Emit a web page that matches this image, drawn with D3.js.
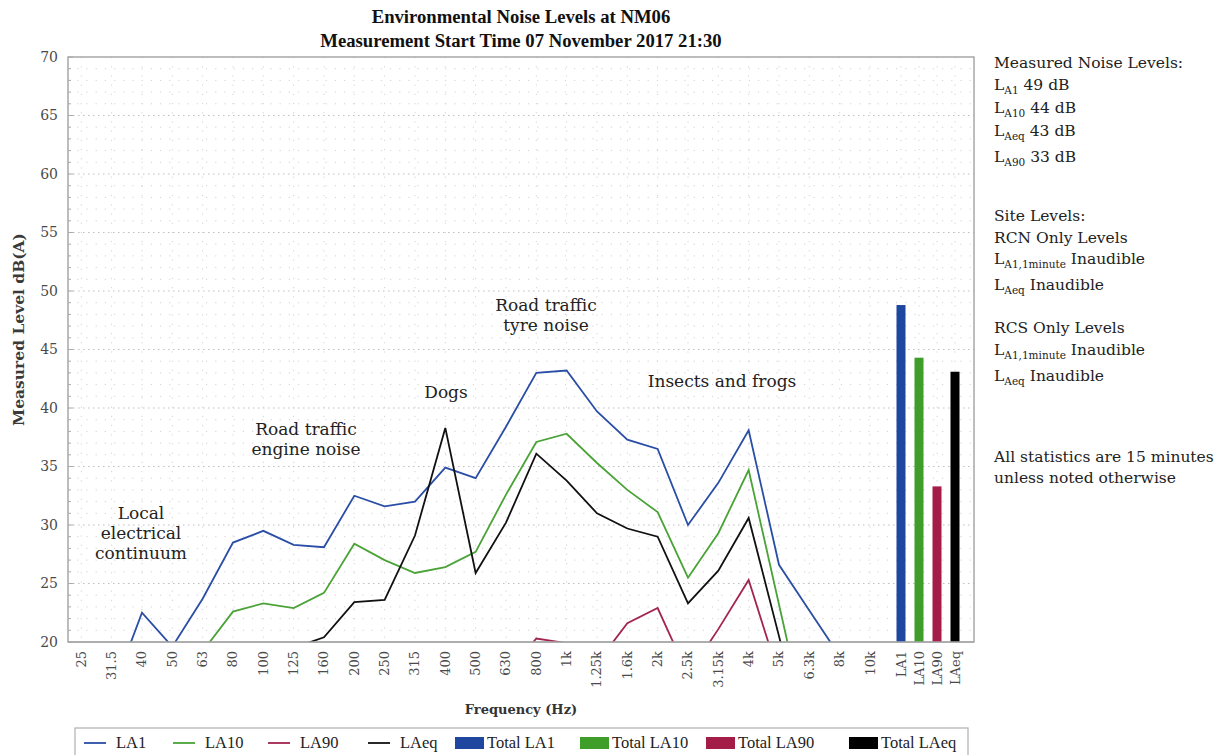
<!DOCTYPE html>
<html><head><meta charset="utf-8">
<script src="https://cdn.jsdelivr.net/npm/d3@7"></script>
<style>body{margin:0;background:#fff}svg{display:block}</style>
</head><body><svg id="c" width="1216" height="755"></svg>
<script>
// ---- data ----
const freqCats = ["25","31.5","40","50","63","80","100","125","160","200","250","315","400","500","630","800","1k","1.25k","1.6k","2k","2.5k","3.15k","4k","5k","6.3k","8k","10k"];
const totalCats = ["LA1","LA10","LA90","LAeq"];
const la1Values  = [14.0,15.6,22.5,19.6,23.7,28.5,29.5,28.3,28.1,32.5,31.6,32.0,34.9,34.0,38.4,43.0,43.2,39.7,37.3,36.5,30.0,33.6,38.1,26.6,22.7,18.8,15.2];
const la10Values = [11.8,12.6,14.1,16.0,19.2,22.6,23.3,22.9,24.2,28.4,27.0,25.9,26.4,27.7,32.6,37.1,37.8,35.3,33.0,31.1,25.5,29.3,34.7,23.2,11.7,10.4,9.1];
const la90Values = [7.9,8.6,9.4,9.1,10.3,11.2,11.9,12.5,13.4,14.8,14.1,15.2,15.9,16.3,17.2,20.3,19.9,18.2,21.6,22.9,17.2,21.1,25.3,17.1,9.8,7.2,6.1];
const laeqValues = [10.9,11.7,13.2,13.0,14.6,16.1,17.5,19.5,20.4,23.4,23.6,29.1,38.3,25.9,30.2,36.1,33.8,31.0,29.7,29.0,23.3,26.1,30.6,20.5,10.2,8.7,7.9];
const totalValues = [48.8, 44.3, 33.3, 43.1];
const yTicks = [20,25,30,35,40,45,50,55,60,65,70];

const seriesNames = ["LA1","LA10","LA90","LAeq"];
const seriesColors = ["#2a4ea6","#4aa336","#a3244f","#111111"];
const barColors = ["#1f47a0","#3f9d2a","#a31d48","#000000"];
const seriesData = [la1Values, la10Values, la90Values, laeqValues];

// ---- layout ----
const svg = d3.select("#c");
const L = 68, R = 974, T = 57, B = 642;

const x = d3.scalePoint().domain(freqCats).range([81.3, 870]);
const xt = d3.scaleBand().domain(totalCats).range([892, 964]).paddingInner(0.5).paddingOuter(0.25);
const y = d3.scaleLinear().domain([20, 70]).range([B, T]);
const catX = c => freqCats.includes(c) ? x(c) : xt(c) + xt.bandwidth() / 2;
const allCats = freqCats.concat(totalCats);

const serif = "'DejaVu Serif', serif";
const tnr = "'Liberation Serif', 'Times New Roman', serif";

// grid
const g = svg.append("g");
g.selectAll(".minor").data(d3.range(21, 70).filter(v => v % 5 !== 0)).join("line")
  .attr("x1", L).attr("x2", R).attr("y1", d => y(d)).attr("y2", d => y(d))
  .attr("stroke", "#d2d2d2").attr("stroke-width", 1).attr("stroke-dasharray", "1.2,8");
g.selectAll(".major").data(yTicks.filter(v => v > 20 && v < 70)).join("line")
  .attr("x1", L).attr("x2", R).attr("y1", d => y(d)).attr("y2", d => y(d))
  .attr("stroke", "#c0c0c0").attr("stroke-width", 1.2).attr("stroke-dasharray", "1.5,3.5");
g.selectAll(".vgrid").data(allCats).join("line")
  .attr("x1", d => catX(d)).attr("x2", d => catX(d)).attr("y1", T).attr("y2", B)
  .attr("stroke", "#d2d2d2").attr("stroke-width", 1).attr("stroke-dasharray", "1.2,8");

// left minor ticks
g.selectAll(".tk").data(d3.range(20, 71)).join("line")
  .attr("x1", L).attr("x2", d => L + (d % 5 === 0 ? 5 : 3)).attr("y1", d => y(d)).attr("y2", d => y(d))
  .attr("stroke", "#aaa").attr("stroke-width", 1);

// frame
svg.append("rect").attr("x", L).attr("y", T).attr("width", R - L).attr("height", B - T)
  .attr("fill", "none").attr("stroke", "#a8a8a8").attr("stroke-width", 1.5);

// y axis
const yAxis = d3.axisLeft(y).tickValues(yTicks).tickSize(0).tickPadding(10).tickFormat(d3.format("d"));
const ya = svg.append("g").attr("transform", `translate(${L},0)`).call(yAxis);
ya.select(".domain").remove();
ya.selectAll("text").attr("font-family", serif).attr("font-size", 14).attr("fill", "#4a4a4a");

// x axis labels (rotated)
const xa = svg.append("g");
xa.selectAll("text").data(allCats).join("text")
  .attr("transform", d => `translate(${catX(d) + 4.5},${B + 9}) rotate(-90)`)
  .attr("text-anchor", "end").attr("font-family", serif).attr("font-size", 13).attr("fill", "#4a4a4a")
  .text(d => d);

// clip
svg.append("clipPath").attr("id", "clip").append("rect").attr("x", L).attr("y", T).attr("width", R - L).attr("height", B - T);

// bars
svg.append("g").selectAll("rect").data(totalCats).join("rect")
  .attr("x", d => xt(d)).attr("width", xt.bandwidth())
  .attr("y", (d, i) => y(totalValues[i])).attr("height", (d, i) => B - y(totalValues[i]))
  .attr("fill", (d, i) => barColors[i]);

// lines
const line = d3.line().x((d, i) => x(freqCats[i])).y(d => y(d));
svg.append("g").attr("clip-path", "url(#clip)").selectAll("path").data(seriesData).join("path")
  .attr("d", d => line(d)).attr("fill", "none")
  .attr("stroke", (d, i) => seriesColors[i]).attr("stroke-width", 1.8).attr("stroke-linejoin", "miter");

// re-draw bottom frame line over the clipped lines
svg.append("line").attr("x1", L).attr("x2", R).attr("y1", B).attr("y2", B).attr("stroke", "#a8a8a8").attr("stroke-width", 1.5);

// title
svg.append("text").attr("x", 521).attr("y", 23).attr("text-anchor", "middle").attr("font-family", tnr)
  .attr("font-weight", "bold").attr("font-size", 18.7).attr("fill", "#111").text("Environmental Noise Levels at NM06");
svg.append("text").attr("x", 521).attr("y", 47).attr("text-anchor", "middle").attr("font-family", tnr)
  .attr("font-weight", "bold").attr("font-size", 18.7).attr("fill", "#111").text("Measurement Start Time 07 November 2017 21:30");

// axis titles
svg.append("text").attr("x", 521).attr("y", 714).attr("text-anchor", "middle").attr("font-family", serif)
  .attr("font-weight", "bold").attr("font-size", 13).attr("fill", "#333").text("Frequency (Hz)");
svg.append("text").attr("transform", `translate(24,${(T + B) / 2 - 20}) rotate(-90)`).attr("text-anchor", "middle")
  .attr("font-family", serif).attr("font-weight", "bold").attr("font-size", 15.5).attr("fill", "#3a3a3a").text("Measured Level dB(A)");

// annotations
const annotations = [
  {lines: ["Local", "electrical", "continuum"], x: 141, y: 519},
  {lines: ["Road traffic", "engine noise"], x: 306, y: 435},
  {lines: ["Dogs"], x: 446, y: 398},
  {lines: ["Road traffic", "tyre noise"], x: 546, y: 311},
  {lines: ["Insects and frogs"], x: 722, y: 387}
];
annotations.forEach(a => {
  const t = svg.append("text").attr("text-anchor", "middle").attr("font-family", serif).attr("font-size", 17).attr("fill", "#222");
  a.lines.forEach((s, i) => t.append("tspan").attr("x", a.x).attr("y", a.y + i * 20).text(s));
});

// right panel
const panel = [
  {y: 68, parts: [["Measured Noise Levels:", false]]},
  {y: 90, parts: [["L", false], ["A1", true], [" 49 dB", false]]},
  {y: 113, parts: [["L", false], ["A10", true], [" 44 dB", false]]},
  {y: 136, parts: [["L", false], ["Aeq", true], [" 43 dB", false]]},
  {y: 162, parts: [["L", false], ["A90", true], [" 33 dB", false]]},
  {y: 221, parts: [["Site Levels:", false]]},
  {y: 243, parts: [["RCN Only Levels", false]]},
  {y: 264, parts: [["L", false], ["A1,1minute", true], [" Inaudible", false]]},
  {y: 290, parts: [["L", false], ["Aeq", true], [" Inaudible", false]]},
  {y: 333, parts: [["RCS Only Levels", false]]},
  {y: 355, parts: [["L", false], ["A1,1minute", true], [" Inaudible", false]]},
  {y: 381, parts: [["L", false], ["Aeq", true], [" Inaudible", false]]},
  {y: 462, parts: [["All statistics are 15 minutes", false]]},
  {y: 483, parts: [["unless noted otherwise", false]]}
];
panel.forEach(p => {
  const t = svg.append("text").attr("x", 994).attr("y", p.y).attr("font-family", serif).attr("font-size", 15.5).attr("fill", "#222");
  p.parts.forEach(([s, sub]) => {
    const ts = t.append("tspan").text(s);
    if (sub) ts.attr("font-size", 10.5).attr("dy", 4);
    else if (t.selectAll("tspan").size() > 1) ts.attr("dy", -4);
  });
});

// legend
svg.append("rect").attr("x", 75).attr("y", 728).attr("width", 893).attr("height", 40)
  .attr("fill", "#fff").attr("stroke", "#b0b0b0").attr("stroke-width", 1.2);
const legendLineX = [84, 173, 268, 368];
const legendBarX = [455, 580, 706, 849];
const lg = svg.append("g");
seriesNames.forEach((n, i) => {
  lg.append("line").attr("x1", legendLineX[i]).attr("x2", legendLineX[i] + 22).attr("y1", 743).attr("y2", 743)
    .attr("stroke", seriesColors[i]).attr("stroke-width", 1.8);
  lg.append("text").attr("x", legendLineX[i] + 32).attr("y", 748).attr("font-family", tnr).attr("font-size", 16.5).attr("fill", "#222").text(n);
  lg.append("rect").attr("x", legendBarX[i]).attr("y", 737).attr("width", 29).attr("height", 12).attr("fill", barColors[i]);
  lg.append("text").attr("x", legendBarX[i] + 32).attr("y", 748).attr("font-family", tnr).attr("font-size", 16.5).attr("fill", "#222").text("Total " + n);
});
</script></body></html>
